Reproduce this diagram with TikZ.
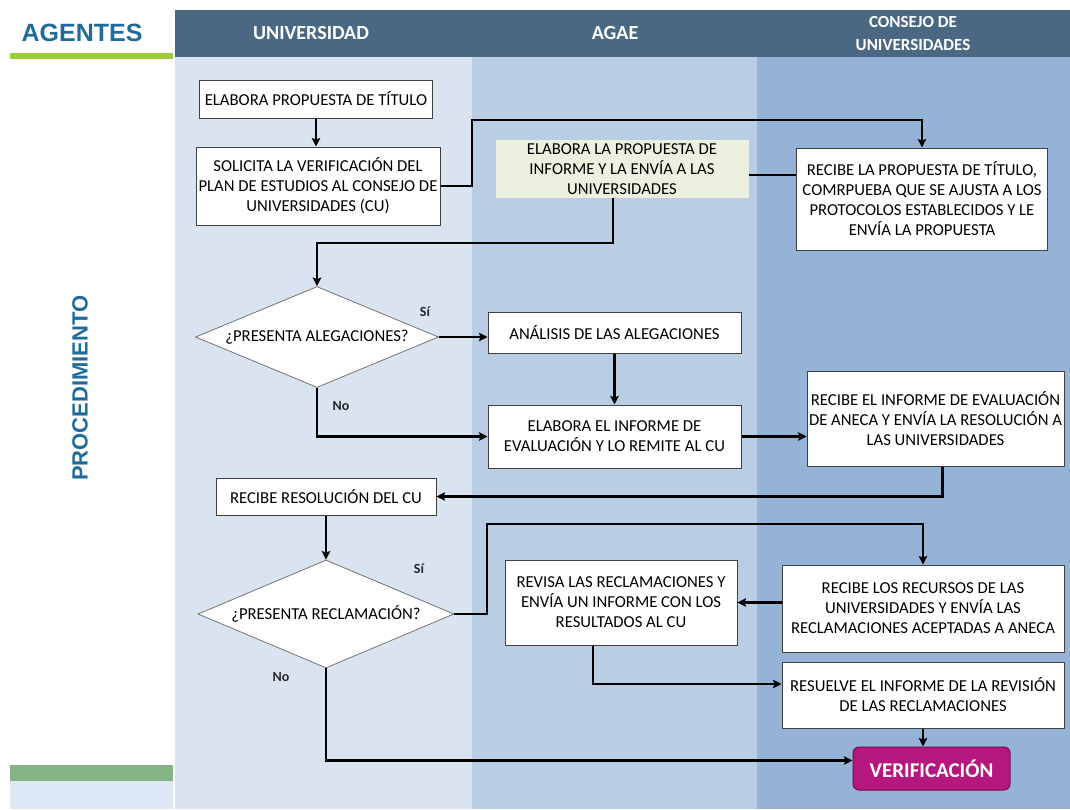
\documentclass[tikz,border=0pt]{standalone}
\usepackage{fontspec}
\setmainfont{Carlito}
\newfontfamily\arialfont{Liberation Sans}
\usetikzlibrary{shapes.geometric,arrows.meta}
\definecolor{laneuni}{HTML}{DAE3F0}
\definecolor{laneagae}{HTML}{B9CDE5}
\definecolor{lanecu}{HTML}{95B3D7}
\definecolor{headbar}{HTML}{4A6882}
\definecolor{agtblue}{HTML}{1F6C9C}
\definecolor{agtgreen}{HTML}{9DCB3C}
\definecolor{botgreen}{HTML}{86B383}
\definecolor{botblue}{HTML}{DCE8F5}
\definecolor{informe}{HTML}{EBF1DE}
\definecolor{verif}{HTML}{B5177F}
\newcommand{\lanelabel}[4]{\node[text=white, font=\bfseries\fontsize{#3}{23}\selectfont, align=center] (#1) at (#2) {#4};}

\begin{document}
\begin{tikzpicture}[x=1pt, y=-1pt, every node/.style={font=\fontsize{16.7}{20}\selectfont, inner sep=1.5pt},
 box/.style={rectangle, draw=black!75, line width=1pt, fill=white, align=center},
 decision/.style={diamond, draw=black!55, line width=0.8pt, fill=white, inner sep=0pt, aspect=2.4},
 flow/.style={line width=2.6pt, -{Stealth[length=8.5pt,width=8.5pt,inset=1.5pt]}},
 flowline/.style={line width=2.6pt},
 answer/.style={font=\bfseries\fontsize{14}{16}\selectfont, text=black!85}]

 \useasboundingbox (0,0) rectangle (1070,809);
 \fill[white] (0,0) rectangle (1070,809);
 \fill[laneuni] (175,57) rectangle (472,809);
 \fill[laneagae] (472,57) rectangle (757,809);
 \fill[lanecu] (757,57) rectangle (1070,809);
 \fill[headbar] (175,10) rectangle (1070,57);
 \fill[agtgreen] (10,53) rectangle (173,59);
 \fill[botgreen] (10,765) rectangle (173,781);
 \fill[botblue] (10,781) rectangle (173,809);

 \node[text=agtblue, font=\arialfont\bfseries\fontsize{25}{28}\selectfont] (agentes) at (82,33) {AGENTES};
 \node[text=agtblue, font=\arialfont\bfseries\fontsize{22}{26}\selectfont, rotate=90] (proced) at (80,388) {PROCEDIMIENTO};
 \lanelabel{huni}{311,33}{20}{UNIVERSIDAD}
 \lanelabel{hagae}{615,33}{20}{AGAE}
 \lanelabel{hcu}{913,33}{17}{CONSEJO DE\\UNIVERSIDADES}

 \node[box, minimum width=233pt, minimum height=38pt] (titulo) at (316,99) {ELABORA PROPUESTA DE TÍTULO};
 \node[box, minimum width=244pt, minimum height=78pt] (solicita) at (318,186) {SOLICITA LA VERIFICACIÓN DEL\\PLAN DE ESTUDIOS AL CONSEJO DE\\UNIVERSIDADES (CU)};
 \node[rectangle, fill=informe, align=center, minimum width=253pt, minimum height=58pt] (informe) at (622,169) {ELABORA LA PROPUESTA DE\\INFORME Y LA ENVÍA A LAS\\UNIVERSIDADES};
 \node[box, minimum width=251pt, minimum height=102pt] (recibe) at (922,199) {RECIBE LA PROPUESTA DE TÍTULO,\\COMRPUEBA QUE SE AJUSTA A LOS\\PROTOCOLOS ESTABLECIDOS Y LE\\ENVÍA LA PROPUESTA};
 \node[decision, minimum width=243pt, minimum height=101pt] (alega) at (317,337) {¿PRESENTA ALEGACIONES?};
 \node[box, minimum width=253pt, minimum height=41pt] (analisis) at (614.5,332.5) {ANÁLISIS DE LAS ALEGACIONES};
 \node[box, minimum width=253pt, minimum height=63pt] (evalua) at (614.5,436.5) {ELABORA EL INFORME DE\\EVALUACIÓN Y LO REMITE AL CU};
 \node[box, minimum width=257pt, minimum height=95pt] (resol) at (935.5,418.5) {RECIBE EL INFORME DE EVALUACIÓN\\DE ANECA Y ENVÍA LA RESOLUCIÓN A\\LAS UNIVERSIDADES};
 \node[box, minimum width=220pt, minimum height=37pt] (recibecu) at (326,496.5) {RECIBE RESOLUCIÓN DEL CU};
 \node[decision, minimum width=256pt, minimum height=108pt] (reclama) at (326,614) {¿PRESENTA RECLAMACIÓN?};
 \node[box, minimum width=232pt, minimum height=85pt] (revisa) at (621,602.5) {REVISA LAS RECLAMACIONES Y\\ENVÍA UN INFORME CON LOS\\RESULTADOS AL CU};
 \node[box, minimum width=282pt, minimum height=87pt] (recursos) at (923,608.5) {RECIBE LOS RECURSOS DE LAS\\UNIVERSIDADES Y ENVÍA LAS\\RECLAMACIONES ACEPTADAS A ANECA};
 \node[box, minimum width=282pt, minimum height=66pt] (resuelve) at (923,695) {RESUELVE EL INFORME DE LA REVISIÓN\\DE LAS RECLAMACIONES};
 \node[rectangle, rounded corners=6pt, fill=verif, draw=verif!60!black, line width=1pt, text=white, font=\bfseries\fontsize{21}{24}\selectfont, minimum width=157pt, minimum height=43pt] (verif) at (931.5,768.5) {VERIFICACIÓN};

 \node[answer] (si1) at (425,312) {Sí};
 \node[answer] (no1) at (341,406) {No};
 \node[answer] (si2) at (419,569) {Sí};
 \node[answer] (no2) at (281,677) {No};

 \draw[flow] (titulo.south) -- (titulo.south |- solicita.north);
 \draw[flow] (solicita.east) -| (472,120) -| (recibe.north);
 \draw[flowline] ([yshift=-6pt]informe.east) -- ([yshift=-6pt]informe.east -| recibe.west);
 \draw[flow] ([xshift=-9pt]informe.south) |- (alega.north |- 0,243) -- (alega.north);
 \draw[flow] (alega.east) -- (alega.east -| analisis.west);
 \draw[flow] (analisis.south) -- (analisis.south |- evalua.north);
 \draw[flow] (alega.south) |- (evalua.west);
 \draw[flow] (evalua.east) -- (evalua.east -| resol.west);
 \draw[flow] ([xshift=7pt]resol.south) |- (recibecu.east);
 \draw[flow] (recibecu.south) -- (recibecu.south |- reclama.north);
 \draw[flow] (reclama.east) -| (487,524) -| (recursos.north);
 \draw[flow] (recursos.west |- revisa.east) -- (revisa.east);
 \draw[flow] ([xshift=-28pt]revisa.south) |- ([yshift=11pt]resuelve.west);
 \draw[flow] (resuelve.south) -- (resuelve.south |- verif.north);
 \draw[flow] (reclama.south) |- ([yshift=8pt]verif.west);
\end{tikzpicture}
\end{document}
